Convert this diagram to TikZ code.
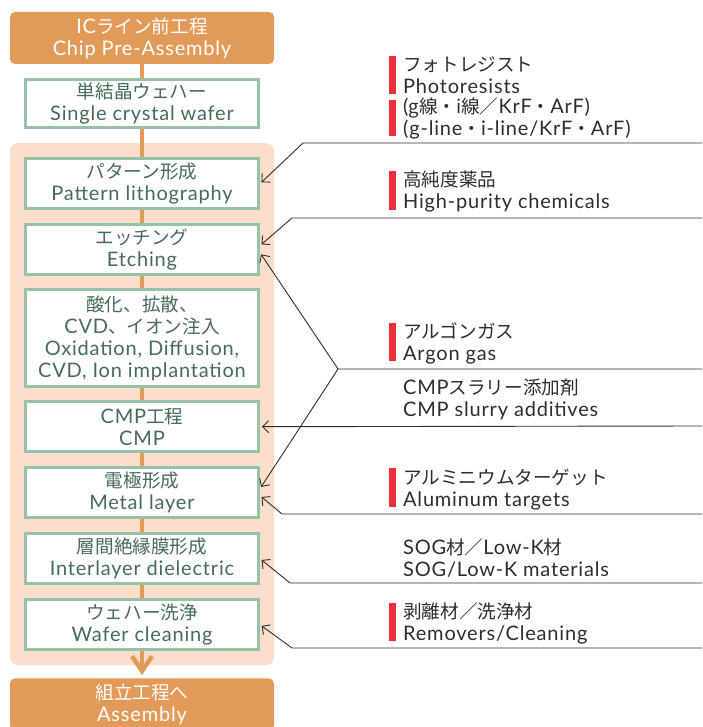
\documentclass[tikz,border=0pt]{standalone}
\usepackage{fontspec}
\setmainfont{Lato}[LetterSpace=4]
\newfontfamily\jpfont[Scale=0.93]{Noto Sans CJK JP}
\usetikzlibrary{arrows.meta,positioning,fit,backgrounds}
\definecolor{procorange}{RGB}{225,154,88}
\definecolor{zonepeach}{RGB}{253,222,202}
\definecolor{stepline}{RGB}{152,194,168}
\definecolor{steptext}{RGB}{70,108,88}
\definecolor{itemtext}{RGB}{45,45,45}
\definecolor{barred}{RGB}{236,48,58}

\begin{document}
\begin{tikzpicture}[
  x=1pt, y=-1pt,
  font=\fontsize{20}{22}\selectfont,
  stage/.style={rectangle, rounded corners=5pt, fill=procorange, text=white,
    minimum width=264pt, minimum height=52pt, align=center, inner sep=0pt},
  stepbox/.style={rectangle, draw=stepline, line width=3pt, fill=white, text=steptext,
    minimum width=233pt, minimum height=50pt, align=center, inner sep=0pt},
  item/.style={anchor=south west, align=left, text=itemtext, inner sep=0pt, text depth=0pt},
  redbar/.style={fill=barred, minimum width=7pt, minimum height=38pt, inner sep=0pt, anchor=south},
  feed/.style={draw=itemtext, line width=0.9pt, -{Straight Barb[length=6pt,width=12pt]}, shorten >=2pt},
  flow/.style={draw=procorange, line width=4.5pt, -{Straight Barb[length=15pt,width=20pt]}, shorten >=3pt}
]
\useasboundingbox (0,0) rectangle (702,727);

% process chain
\node[stage] (chip) at (142,38) {IC{\jpfont ライン前工程}\\Chip Pre-Assembly};
\node[stepbox, below=14pt of chip, minimum height=48pt] (wafer) {{\jpfont 単結晶ウェハー}\\Single crystal wafer};
\node[stepbox, below=28pt of wafer] (litho) {{\jpfont パターン形成}\\Pattern lithography};
\node[stepbox, below=13pt of litho] (etch) {{\jpfont エッチング}\\Etching};
\node[stepbox, below=12pt of etch, minimum height=97pt] (oxid)
  {{\jpfont 酸化、拡散、}\\CVD{\jpfont 、イオン注入}\\Oxidation, Diffusion,\\CVD, Ion implantation};
\node[stepbox, below=12pt of oxid] (cmp) {CMP{\jpfont 工程}\\CMP};
\node[stepbox, below=13pt of cmp] (metal) {{\jpfont 電極形成}\\Metal layer};
\node[stepbox, below=13pt of metal] (ild) {{\jpfont 層間絶縁膜形成}\\Interlayer dielectric};
\node[stepbox, below=13pt of ild] (clean) {{\jpfont ウェハー洗浄}\\Wafer cleaning};
\node[stage, below=27pt of clean] (assy) {{\jpfont 組立工程へ}\\Assembly};

\begin{scope}[on background layer]
  \node[fit=(litho)(clean), inner sep=14pt, fill=zonepeach, rounded corners=8pt] (zone) {};
  \draw[flow] (chip) -- (assy.north);
\end{scope}

% materials
\node[item] (photoA) at (403,94) {{\jpfont フォトレジスト}\\Photoresists};
\node[item] (photoB) at (403,136) {({\jpfont g線・i線／}KrF{\jpfont ・}ArF)\\(g-line{\jpfont ・}i-line/KrF{\jpfont ・}ArF)};
\node[item] (chem) at (403,209) {{\jpfont 高純度薬品}\\High-purity chemicals};
\node[item] (argon) at (403,361) {{\jpfont アルゴンガス}\\Argon gas};
\node[item] (slurry) at (403,417) {CMP{\jpfont スラリー添加剤}\\CMP slurry additives};
\node[item] (alu) at (403,507) {{\jpfont アルミニウムターゲット}\\Aluminum targets};
\node[item] (sog) at (403,577) {SOG{\jpfont 材／}Low-K{\jpfont 材}\\SOG/Low-K materials};
\node[item] (remov) at (403,641) {{\jpfont 剥離材／洗浄材}\\Removers/Cleaning};

\node[redbar] (barA) at (392,94) {};
\node[redbar, minimum height=36pt] (barB) at (392,136) {};
\node[redbar, minimum height=39pt] (barC) at (392,210) {};
\node[redbar] (barD) at (392,361) {};
\node[redbar, minimum height=39pt] (barE) at (392,507) {};
\node[redbar] (barF) at (392,641) {};

% feed lines
\coordinate (photoR) at (702,143);  \coordinate (photoK) at (303,143);
\coordinate (chemR) at (702,218);   \coordinate (chemK) at (292,218);
\coordinate (argonR) at (702,369);  \coordinate (argonK) at (338,369);
\coordinate (slurryR) at (702,426);
\coordinate (aluR) at (702,514);    \coordinate (aluK) at (282,514);
\coordinate (sogR) at (702,583);    \coordinate (sogK) at (290,583);
\coordinate (remR) at (702,648);    \coordinate (remK) at (292,648);

\draw[feed] (photoR) -- (photoK) -- (litho.east);
\draw[feed] (chemR) -- (chemK) -- ([yshift=4pt]etch.east);
\draw[feed] (argonR) -- (argonK) -- ([yshift=-3pt]etch.east);
\draw[feed] (argonK) -- ([yshift=4pt]metal.east);
\draw[feed] (slurryR) -- (cmp.east);
\draw[feed] (aluR) -- (aluK) -- ([yshift=-3pt]metal.east);
\draw[feed] (sogR) -- (sogK) -- (ild.east);
\draw[feed] (remR) -- (remK) -- (clean.east);
\end{tikzpicture}
\end{document}
